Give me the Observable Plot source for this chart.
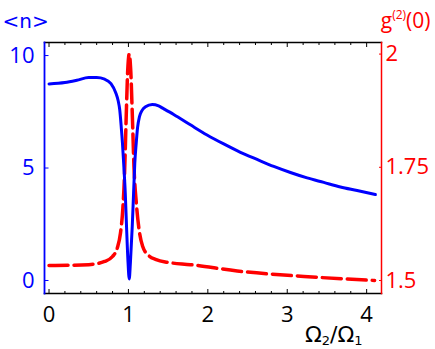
<!DOCTYPE html>
<html>
<head>
<meta charset="utf-8">
<script src="https://cdn.jsdelivr.net/npm/d3@7"></script>
<script src="https://cdn.jsdelivr.net/npm/@observablehq/plot@0.6"></script>
<style>
  html, body { margin: 0; padding: 0; background: #fff; }
  #chart { width: 435px; height: 349px; }
</style>
</head>
<body>
<div id="chart"></div>
<script>
// ---- data ----
const nX = [0, 0.2, 0.35, 0.5, 0.6, 0.7, 0.78, 0.84, 0.87, 0.89, 0.91, 0.925, 0.94, 0.96, 0.976, 0.995, 1.01, 1.025, 1.048, 1.065, 1.08, 1.098, 1.115, 1.14, 1.17, 1.215, 1.3, 1.38, 1.446, 1.57, 1.78, 1.99, 2.2, 2.41, 2.62, 2.83, 3.04, 3.25, 3.46, 3.67, 3.88, 4.11];
const nY = [8.74, 8.8, 8.9, 9.02, 9.02, 8.95, 8.75, 8.35, 8.0, 7.6, 6.8, 6.1, 5.2, 3.9, 2.4, 0.8, 0.07, 0.8, 2.4, 3.9, 5.2, 6.1, 6.8, 7.3, 7.55, 7.72, 7.82, 7.76, 7.63, 7.38, 6.92, 6.47, 6.07, 5.70, 5.38, 5.07, 4.80, 4.56, 4.36, 4.16, 4.0, 3.82];

const gX = [0, 0.5, 0.7, 0.8, 0.86, 0.9, 0.93, 0.95, 0.97, 0.99, 1.01, 1.03, 1.05, 1.07, 1.1, 1.14, 1.18, 1.25, 1.35, 1.5, 1.78, 2.37, 3.21, 4.1];
const gY = [1.533, 1.535, 1.542, 1.553, 1.572, 1.605, 1.66, 1.73, 1.85, 1.96, 2.0, 1.96, 1.86, 1.75, 1.67, 1.605, 1.575, 1.556, 1.546, 1.54, 1.535, 1.521, 1.509, 1.5];

const xMajorTicks = [0, 1, 2, 3, 4];
const xMinorTicks = [0.2, 0.4, 0.6, 0.8, 1.2, 1.4, 1.6, 1.8, 2.2, 2.4, 2.6, 2.8, 3.2, 3.4, 3.6, 3.8];
const nTicks = [0, 5, 10];
const gTicks = [1.5, 1.75, 2];

const leftTitle = "<n>";
const rightTitle = ["g", "(2)", "(0)"];
const xTitle = ["Ω", "2", "/", "Ω", "1"];

// ---- styling ----
const BLUE = "#0000ff", RED = "#ff0000";
const FONT = "'Open Sans', sans-serif";
const FS = 22;

// dual axis: g2 mapped onto the <n> scale
const G0 = 1.5, GK = 20.13;
const gToN = g => (g - G0) * GK;
const nToG = n => n / GK + G0;

const nData = nX.map((x, i) => ({x, v: nY[i]}));
const gData = gX.map((x, i) => ({x, v: gToN(gY[i])}));

const chart = Plot.plot({
  width: 435,
  height: 349,
  marginLeft: 44,
  marginRight: 54,
  marginTop: 42,
  marginBottom: 56,
  style: {fontFamily: FONT, background: "white", overflow: "visible"},
  x: {domain: [-0.057, 4.187]},
  y: {domain: [-0.578, 10.58]},
  marks: [
    Plot.line(gData, {x: "x", y: "v", stroke: RED, strokeWidth: 3.5, strokeDasharray: "19,6", curve: "monotone-x"}),
    Plot.line(nData, {x: "x", y: "v", stroke: BLUE, strokeWidth: 3, curve: "monotone-x"}),

    Plot.frame({anchor: "top", stroke: "black", strokeWidth: 1.5}),
    Plot.frame({anchor: "bottom", stroke: "black", strokeWidth: 1.5}),
    Plot.frame({anchor: "left", stroke: BLUE, strokeWidth: 1.8}),
    Plot.frame({anchor: "right", stroke: RED, strokeWidth: 1.5}),

    // bottom axis
    Plot.axisX({anchor: "bottom", ticks: xMajorTicks, tickSize: 0, tickPadding: 13, tickFormat: d3.format("d"), fontSize: FS, fill: "black", label: null}),
    Plot.axisX({anchor: "bottom", ticks: xMajorTicks, tickSize: -4, tickFormat: () => "", label: null, stroke: "black"}),
    Plot.axisX({anchor: "bottom", ticks: xMinorTicks, tickSize: -2, tickFormat: () => "", label: null, stroke: "black"}),
    // top axis ticks
    Plot.axisX({anchor: "top", ticks: xMajorTicks, tickSize: -4, tickFormat: () => "", label: null, stroke: "black"}),
    Plot.axisX({anchor: "top", ticks: xMinorTicks, tickSize: -2, tickFormat: () => "", label: null, stroke: "black"}),

    // left axis (<n>)
    Plot.axisY({anchor: "left", ticks: nTicks, tickSize: 0, tickPadding: 10, tickFormat: d3.format("d"), fontSize: FS, fill: BLUE, label: null}),
    Plot.axisY({anchor: "left", ticks: nTicks, tickSize: -4.5, tickFormat: () => "", label: null, stroke: BLUE}),

    // right axis (g2)
    Plot.axisY({anchor: "right", ticks: gTicks.map(gToN), tickSize: 0, tickPadding: 4,
      tickFormat: d => d3.format("~g")(+nToG(d).toFixed(2)), fontSize: FS, fill: RED, label: null}),
    Plot.axisY({anchor: "right", ticks: gTicks.map(gToN), tickSize: -3, tickFormat: () => "", label: null, stroke: RED}),

    // titles
    Plot.text([leftTitle], {text: d => d, frameAnchor: "top-left", textAnchor: "start", lineAnchor: "bottom",
      dx: -42, dy: -15, fill: BLUE, fontSize: 20, fontFamily: "'DejaVu Sans', sans-serif", className: "t-left"}),
    Plot.text([rightTitle.join("")], {text: d => d, frameAnchor: "top-right", textAnchor: "end", lineAnchor: "bottom",
      dx: 49, dy: -15, fill: RED, fontSize: 21, className: "t-right"}),
    Plot.text([xTitle.join("")], {text: d => d, frameAnchor: "bottom-right", textAnchor: "end", lineAnchor: "bottom",
      dx: -19, dy: 48, fill: "black", fontSize: 22, fontFamily: "'DejaVu Sans', sans-serif", className: "t-x"})
  ]
});

document.getElementById("chart").appendChild(chart);

// superscript / subscript formatting of titles
const svg = d3.select(chart);
const rt = svg.select(".t-right text");
rt.text("");
rt.append("tspan").text(rightTitle[0]);
rt.append("tspan").attr("font-size", 12).attr("dy", -9).text(rightTitle[1]);
rt.append("tspan").attr("dy", 9).text(rightTitle[2]);

const xt = svg.select(".t-x text");
xt.text("");
xt.append("tspan").text(xTitle[0]);
xt.append("tspan").attr("font-size", 13).attr("dy", 3).text(xTitle[1]);
xt.append("tspan").attr("dy", -3).text(xTitle[2]);
xt.append("tspan").text(xTitle[3]);
xt.append("tspan").attr("font-size", 13).attr("dy", 3).text(xTitle[4]);
</script>
</body>
</html>
